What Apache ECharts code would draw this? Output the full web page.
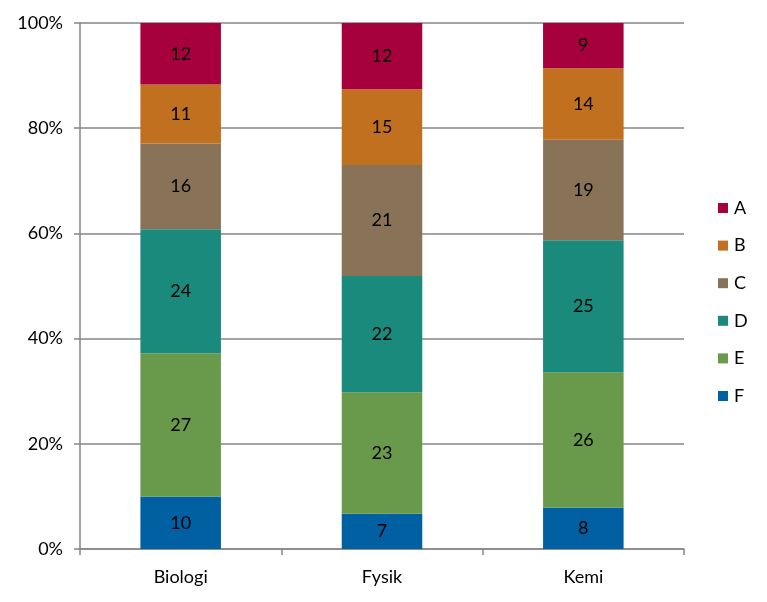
<!DOCTYPE html>
<html><head><meta charset="utf-8">
<script src="https://cdn.jsdelivr.net/npm/echarts@6/dist/echarts.min.js"></script>
<style>html,body{margin:0;padding:0;background:#fff}#c{width:767px;height:602px}</style>
</head><body><div id="c"></div>
<script>
const categories = ['Biologi', 'Fysik', 'Kemi'];
const seriesNames = ['F', 'E', 'D', 'C', 'B', 'A'];
// shares in percent (bar heights)
const pctF = [10.0, 6.7, 7.9];
const pctE = [27.2, 23.1, 25.7];
const pctD = [23.6, 22.1, 25.1];
const pctC = [16.3, 21.1, 19.1];
const pctB = [11.2, 14.4, 13.6];
const pctA = [11.7, 12.6, 8.6];
// printed labels
const labF = [10, 7, 8];
const labE = [27, 23, 26];
const labD = [24, 22, 25];
const labC = [16, 21, 19];
const labB = [11, 15, 14];
const labA = [12, 12, 9];
const yTicks = [0, 20, 40, 60, 80, 100];
const colors = {F:'#0060A2', E:'#69994A', D:'#1A8A7C', C:'#887258', B:'#C0701F', A:'#A6003D'};
const pct = {F: pctF, E: pctE, D: pctD, C: pctC, B: pctB, A: pctA};
const lab = {F: labF, E: labE, D: labD, C: labC, B: labB, A: labA};
const font = 'Lato, "Open Sans", sans-serif';
const fs = 18;
const chart = echarts.init(document.getElementById('c'));
chart.setOption({
  animation: false,
  grid: {left: 80, right: 83, top: 23, bottom: 53},
  legend: {
    data: ['A','B','C','D','E','F'], orient: 'vertical', left: 713, top: 194,
    itemWidth: 10, itemHeight: 10, itemGap: 19.6, icon: 'rect',
    textStyle: {fontFamily: font, fontSize: fs, color: '#000', padding: [0,0,0,1]}
  },
  xAxis: {
    type: 'category', data: categories,
    axisLine: {lineStyle: {color: '#868686', width: 1.5}},
    axisTick: {show: true, length: 6, lineStyle: {color: '#868686', width: 1.5}},
    axisLabel: {fontFamily: font, fontSize: fs, color: '#000', margin: 19}
  },
  yAxis: {
    type: 'value', min: yTicks[0], max: yTicks[yTicks.length - 1], interval: yTicks[1] - yTicks[0],
    axisLine: {show: true, lineStyle: {color: '#868686', width: 1.5}},
    axisTick: {show: true, length: 6, lineStyle: {color: '#868686', width: 1.5}},
    splitLine: {lineStyle: {color: '#868686', width: 1.5}},
    axisLabel: {fontFamily: font, fontSize: fs, color: '#000', margin: 17, formatter: '{value}%'}
  },
  series: seriesNames.map(n => ({
    name: n, type: 'bar', stack: 'all', barWidth: '40%',
    itemStyle: {color: colors[n]},
    data: pct[n],
    label: {show: true, position: 'inside', fontFamily: font, fontSize: fs, color: '#000',
      formatter: p => String(lab[n][p.dataIndex])}
  }))
});
</script></body></html>
